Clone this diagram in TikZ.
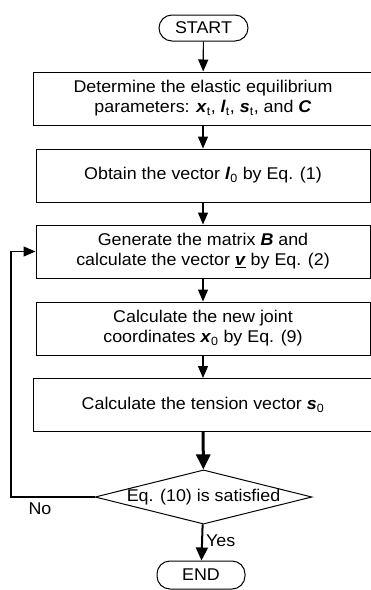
\documentclass[tikz,border=0pt]{standalone}
\usepackage{fontspec}
\setmainfont[FakeStretch=1.05]{Liberation Sans}
\usetikzlibrary{shapes.geometric,arrows.meta}
\newcommand{\bv}[1]{\textbf{\textit{#1}}}
\begin{document}
\begin{tikzpicture}[x=1pt,y=-1pt,
  txt/.style={font=\fontsize{17}{20}\selectfont, align=center, inner sep=0pt},
  pill/.style={txt, draw, line width=1pt, rounded corners=13pt, minimum height=26pt},
  stepbox/.style={txt, draw, line width=1pt, minimum height=53pt},
  decide/.style={txt, draw, line width=1pt, diamond, aspect=4, minimum width=213pt, minimum height=53pt},
  thin/.style={line width=1.2pt, -{Triangle[width=10pt,length=12pt]}},
  thick/.style={line width=3pt, -{Triangle[width=14pt,length=15pt]}},
  mid/.style={line width=2pt, -{Triangle[width=12pt,length=13pt]}}]
\useasboundingbox (0,0) rectangle (371,590);
\node[pill, minimum width=89pt] (start) at (203.5,28) {START};
\node[stepbox, minimum width=340pt] (s1) at (203,98.5)
  {Determine the elastic equilibrium\\parameters: \bv{x}\textsubscript{t}, \bv{l}\textsubscript{t}, \bv{s}\textsubscript{t}, and \bv{C}};
\node[stepbox, minimum width=334pt] (s2) at (203,175.5)
  {Obtain the vector \bv{l}\textsubscript{0} by Eq. (1)};
\node[stepbox, minimum width=334pt] (s3) at (203,251.5)
  {Generate the matrix \bv{B} and\\calculate the vector \underline{\bv{v}} by Eq. (2)};
\node[stepbox, minimum width=334pt] (s4) at (203,328.5)
  {Calculate the new joint\\coordinates \bv{x}\textsubscript{0} by Eq. (9)};
\node[stepbox, minimum width=340pt] (s5) at (203,405)
  {Calculate the tension vector \bv{s}\textsubscript{0}};
\node[decide] (check) at (203.5,497) {Eq. (10) is satisfied};
\node[pill, minimum width=88pt, minimum height=28pt] (end) at (201,575) {END};
\coordinate (back1) at (11,497);
\coordinate (back2) at (11,251.5);

\draw[thin] (start) -- (s1);
\draw[thin] (s1) -- (s2);
\draw[thin] (s2) -- (s3);
\draw[thin] (s3) -- (s4);
\draw[thin] (s4) -- (s5);
\draw[thick] (s5) -- (check);
\draw[mid] (check) -- (end);
\draw[thin] (check.west) -- (back1) -- (back2) -- (s3.west);

\node[txt] (no) at (40,509) {No};
\node[txt, anchor=west] (yes) at (206,541) {Yes};
\end{tikzpicture}
\end{document}
